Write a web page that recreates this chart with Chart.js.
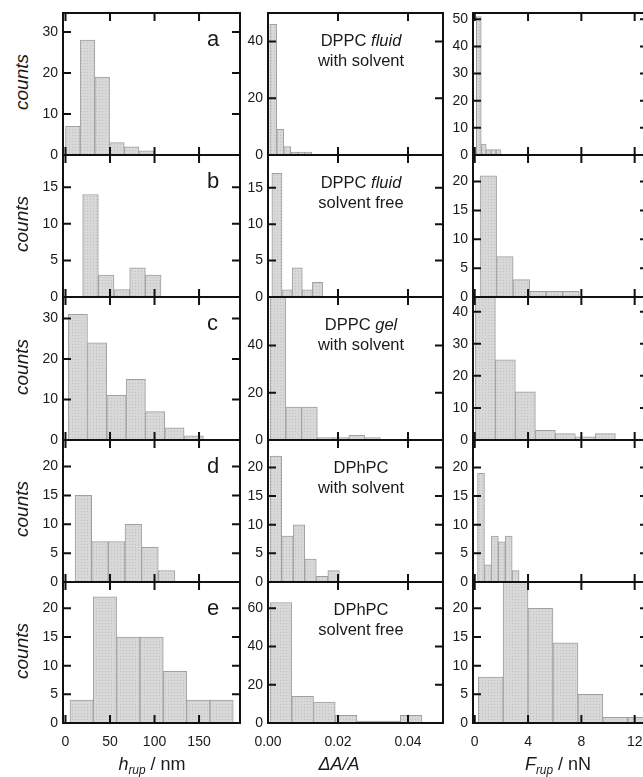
<!DOCTYPE html>
<html>
<head>
<meta charset="utf-8">
<title>Rupture histograms</title>
<script src="https://cdn.jsdelivr.net/npm/chart.js@4.4.1/dist/chart.umd.min.js"></script>
<style>
    html, body { margin: 0; padding: 0; background: #fff; }
    #figure {
        position: relative; width: 643px; height: 777px; overflow: hidden;
        font-family: "Liberation Sans", Arial, sans-serif; color: #1a1a1a;
    }
    #figure canvas { position: absolute; }
    .txt { position: absolute; white-space: nowrap; line-height: 1; }
    .counts { font-style: italic; transform: translate(-50%, -50%) rotate(-90deg); }
    .txt sub { font-size: 0.66em; vertical-align: -0.3em; line-height: 0; font-style: italic; }
</style>
</head>
<body>
<div id="figure"></div>
<script>
// ---- Data ----

// x axis ticks
const hRupTicks = [0, 50, 100, 150];
const hRupTickLabels = ['0', '50', '100', '150'];
const areaTicks = [0, 0.02, 0.04];
const areaTickLabels = ['0.00', '0.02', '0.04'];
const forceTicks = [0, 4, 8, 12];
const forceTickLabels = ['0', '4', '8', '12'];

// h_rup / nm histograms, rows a..e (first bin start, bin width, counts)
const hRupBinStart = [0, 19.3, 3, 10.7, 5];
const hRupBinWidth = [16.5, 17.6, 21.7, 18.7, 26.2];
const hRupCounts = [
    [7, 28, 19, 3, 2, 1],
    [14, 3, 1, 4, 3],
    [31, 24, 11, 15, 7, 3, 1],
    [15, 7, 7, 10, 6, 2],
    [4, 22, 15, 15, 9, 4, 4]
];

// dA/A histograms, rows a..e
const areaBinStart = [0.0005, 0.0011, 0.0006, 0.0006, 0.0006];
const areaBinWidth = [0.002, 0.0029, 0.0045, 0.0033, 0.0062];
const areaCounts = [
    [46, 9, 3, 1, 1, 1],
    [17, 1, 4, 1, 2],
    [66, 14, 14, 1, 1, 2, 1],
    [22, 8, 10, 4, 1, 2],
    [63, 14, 11, 4, 1, 1, 4]
];

// F_rup / nN histograms, rows a..e
const forceBinStart = [0.12, 0.4, 0.05, 0.21, 0.26];
const forceBinWidth = [0.37, 1.24, 1.5, 0.52, 1.87];
const forceCounts = [
    [51, 4, 2, 2, 2],
    [21, 7, 3, 1, 1, 1],
    [46, 25, 15, 3, 2, 1, 2],
    [19, 3, 8, 7, 8, 2],
    [8, 26, 20, 14, 5, 1, 1]
];

// y axes per panel
const hRupYMax = [34.6, 19.4, 35.3, 24.6, 24.6];
const areaYMax = [50, 19.5, 60.6, 24.8, 73.7];
const forceYMax = [52.3, 24.6, 44.6, 24.8, 24.6];
const hRupYTicks = [[0, 10, 20, 30], [0, 5, 10, 15], [0, 10, 20, 30], [0, 5, 10, 15, 20], [0, 5, 10, 15, 20]];
const areaYTicks = [[0, 20, 40], [0, 5, 10, 15], [0, 20, 40], [0, 5, 10, 15, 20], [0, 20, 40, 60]];
const forceYTicks = [[0, 10, 20, 30, 40, 50], [0, 5, 10, 15, 20], [0, 10, 20, 30, 40], [0, 5, 10, 15, 20], [0, 5, 10, 15, 20]];

// panel letters and sample captions
const panelLetters = ['a', 'b', 'c', 'd', 'e'];
const captionLine1 = ['DPPC <i>fluid</i>', 'DPPC <i>fluid</i>', 'DPPC <i>gel</i>', 'DPhPC', 'DPhPC'];
const captionLine2 = ['with solvent', 'solvent free', 'with solvent', 'with solvent', 'solvent free'];

// ---- Layout ----
const rowEdges = [13, 155, 297, 440, 582, 723];
const columns = [
    { left: 63, right: 240, min: -2.8, max: 196, ticks: hRupTicks, labels: hRupTickLabels,
      start: hRupBinStart, width: hRupBinWidth, counts: hRupCounts, yMax: hRupYMax, yTicks: hRupYTicks },
    { left: 268, right: 443, min: 0, max: 0.05, ticks: areaTicks, labels: areaTickLabels,
      start: areaBinStart, width: areaBinWidth, counts: areaCounts, yMax: areaYMax, yTicks: areaYTicks },
    { left: 473, right: 648, min: -0.13, max: 13, ticks: forceTicks, labels: forceTickLabels,
      start: forceBinStart, width: forceBinWidth, counts: forceCounts, yMax: forceYMax, yTicks: forceYTicks }
];

const figure = document.getElementById('figure');
const tickFont = { family: '"Liberation Sans", Arial, sans-serif', size: 14 };

// Stippled grey fill like the printed bars
function makeStipple() {
    const p = document.createElement('canvas');
    p.width = 3; p.height = 3;
    const g = p.getContext('2d');
    g.fillStyle = '#d8d8d8';
    g.fillRect(0, 0, 3, 3);
    g.fillStyle = '#c0c0c0';
    g.fillRect(0, 0, 1, 1);
    return g.createPattern(p, 'repeat');
}
const stipple = makeStipple();

// Frame with inward ticks on all four sides
const framePlugin = {
    id: 'frame',
    afterDraw(chart) {
        const ctx = chart.ctx;
        const a = chart.chartArea;
        const x = chart.scales.x;
        const y = chart.scales.y;
        ctx.save();
        ctx.strokeStyle = '#111';
        ctx.lineWidth = 2;
        ctx.strokeRect(a.left, a.top, a.right - a.left, a.bottom - a.top);
        ctx.beginPath();
        x.ticks.forEach(function(t) {
            const px = x.getPixelForValue(t.value);
            ctx.moveTo(px, a.bottom); ctx.lineTo(px, a.bottom - 8);
            ctx.moveTo(px, a.top); ctx.lineTo(px, a.top + 8);
        });
        y.ticks.forEach(function(t) {
            const py = y.getPixelForValue(t.value);
            ctx.moveTo(a.left, py); ctx.lineTo(a.left + 8, py);
            ctx.moveTo(a.right, py); ctx.lineTo(a.right - 8, py);
        });
        ctx.stroke();
        ctx.restore();
    }
};

function buildPanel(col, row) {
    const c = columns[col];
    const isBottom = row === 4;
    const top = rowEdges[row];
    const bottom = rowEdges[row + 1];
    const padL = 30, padT = 4, padR = 4;
    const padB = isBottom ? 34 : 4;

    const canvas = document.createElement('canvas');
    canvas.width = padL + (c.right - c.left) + padR;
    canvas.height = padT + (bottom - top) + padB;
    canvas.style.left = (c.left - padL) + 'px';
    canvas.style.top = (top - padT) + 'px';
    figure.appendChild(canvas);

    const points = c.counts[row].map(function(n, i) {
        return { x: c.start[row] + (i + 0.5) * c.width[row], y: n };
    });
    const yTicks = c.yTicks[row];

    new Chart(canvas, {
        type: 'bar',
        data: {
            datasets: [{
                data: points,
                backgroundColor: stipple,
                borderColor: '#a0a0a0',
                borderWidth: 1,
                barPercentage: 1,
                categoryPercentage: 1
            }]
        },
        options: {
            responsive: false,
            animation: false,
            devicePixelRatio: 1,
            layout: { padding: { top: padT, right: padR, left: 0, bottom: 0 } },
            plugins: { legend: { display: false }, tooltip: { enabled: false } },
            scales: {
                x: {
                    type: 'linear', min: c.min, max: c.max, offset: false,
                    grid: { display: false, drawTicks: false },
                    border: { display: false },
                    ticks: {
                        display: isBottom, padding: 11, font: tickFont, color: '#1a1a1a',
                        autoSkip: false, maxRotation: 0, minRotation: 0,
                        callback: function(v, i) { return c.labels[i]; }
                    },
                    afterBuildTicks: function(s) { s.ticks = c.ticks.map(function(v) { return { value: v }; }); },
                    afterFit: function(s) { s.height = padB; s.paddingLeft = 0; s.paddingRight = 0; }
                },
                y: {
                    min: 0, max: c.yMax[row],
                    grid: { display: false, drawTicks: false },
                    border: { display: false },
                    ticks: {
                        padding: 5, font: tickFont, color: '#1a1a1a',
                        callback: function(v) { return String(v); }
                    },
                    afterBuildTicks: function(s) { s.ticks = yTicks.map(function(v) { return { value: v }; }); },
                    afterFit: function(s) { s.width = padL; s.paddingTop = 0; s.paddingBottom = 0; }
                }
            }
        },
        plugins: [framePlugin]
    });
}

function addText(html, x, baseline, size, centered) {
    const el = document.createElement('div');
    el.className = 'txt';
    el.innerHTML = html;
    el.style.fontSize = size + 'px';
    el.style.left = x + 'px';
    el.style.top = (baseline - size * 0.85) + 'px';
    if (centered) el.style.transform = 'translateX(-50%)';
    figure.appendChild(el);
    return el;
}

for (let row = 0; row < 5; row++) {
    for (let col = 0; col < 3; col++) {
        buildPanel(col, row);
    }
}

// Texts on top of the panels
for (let row = 0; row < 5; row++) {
    const top = rowEdges[row];
    const mid = (rowEdges[row] + rowEdges[row + 1]) / 2;

    const counts = document.createElement('div');
    counts.className = 'txt counts';
    counts.textContent = 'counts';
    counts.style.fontSize = '19px';
    counts.style.left = '21px';
    counts.style.top = (mid - 2) + 'px';
    figure.appendChild(counts);

    addText(panelLetters[row], 207, top + 34, 22, false);
    addText(captionLine1[row], 361, top + 33, 16.5, true);
    addText(captionLine2[row], 361, top + 53, 16.5, true);
}

addText('<i>h</i><sub>rup</sub> / nm', 152, 770, 18, true);
addText('<i>\u0394A/A</i>', 339, 770, 18, true);
addText('<i>F</i><sub>rup</sub> / nN', 558, 770, 18, true);
</script>
</body>
</html>
